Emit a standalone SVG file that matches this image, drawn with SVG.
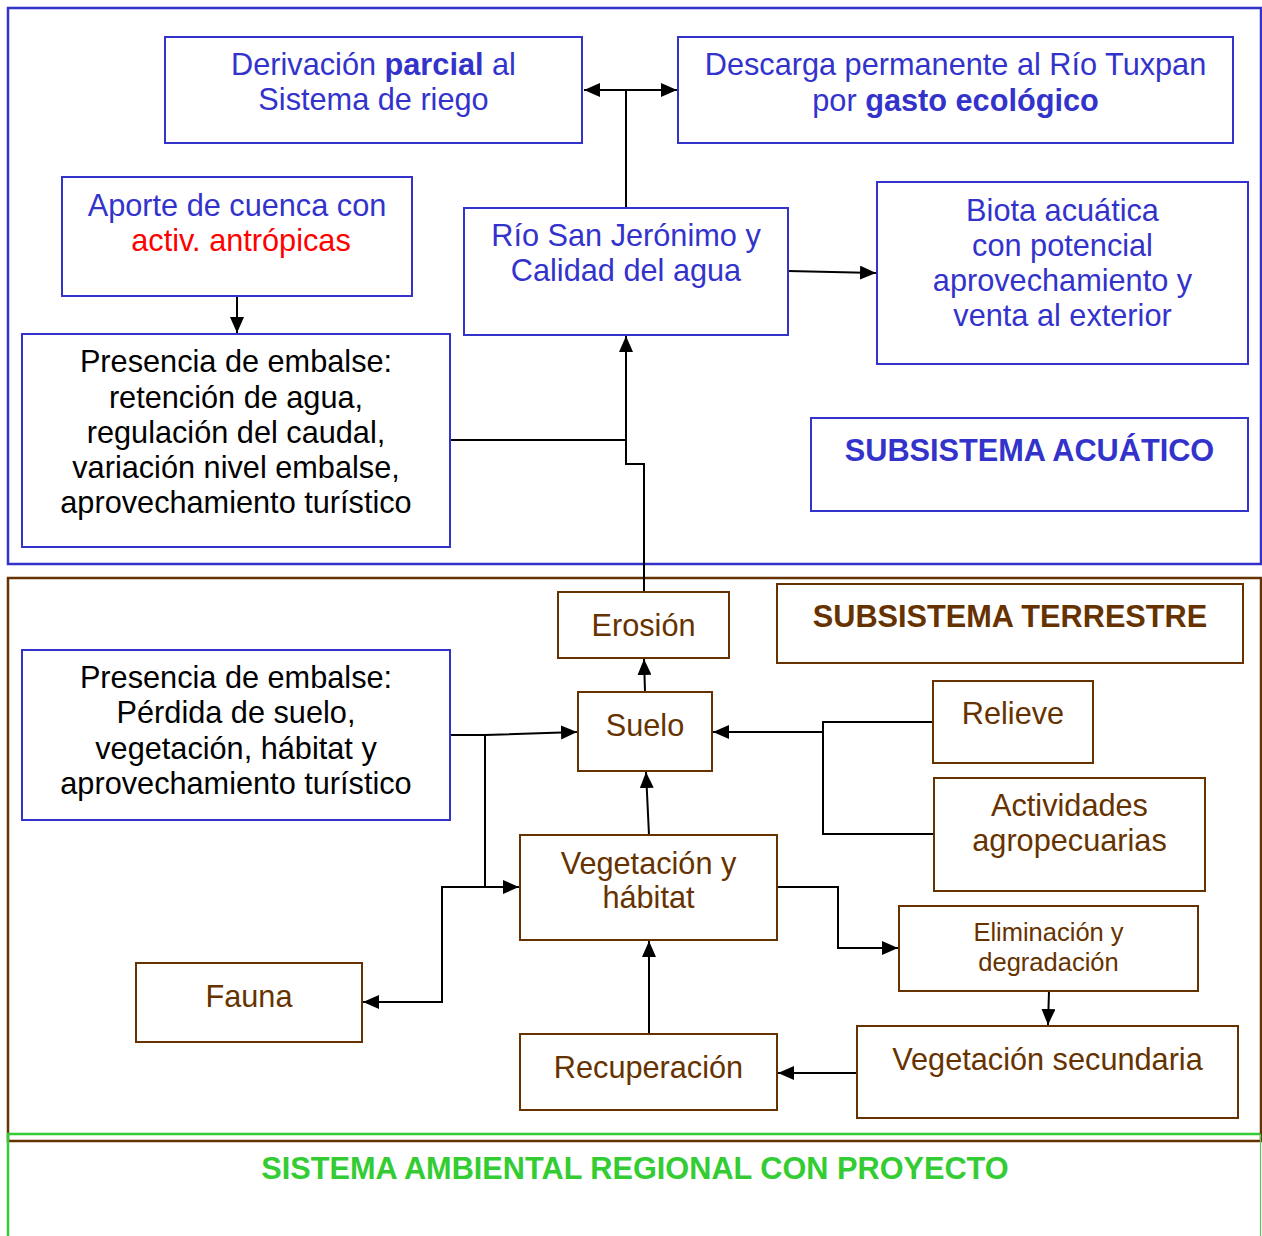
<svg xmlns="http://www.w3.org/2000/svg" width="1262" height="1236" viewBox="0 0 1262 1236">
<style>
text{font-family:"Liberation Sans",Arial,sans-serif;font-size:30.7px;text-anchor:middle}
.b{fill:#3333CC}.k{fill:#000}.br{fill:#663300}.r{fill:#FF0000}.g{fill:#33CC33}
.bold{font-weight:bold}
.nb{fill:#fff;stroke:#3333CC;stroke-width:2}
.nr{fill:#fff;stroke:#663300;stroke-width:2}
.c{fill:none;stroke:#000;stroke-width:2}
</style>
<defs>
<marker id="a" markerUnits="userSpaceOnUse" markerWidth="16" markerHeight="14" refX="16" refY="7" orient="auto"><path d="M0,0 L16,7 L0,14 z" fill="#000"/></marker>
</defs>
<g id="frames">
<rect x="8" y="8" width="1253" height="556" fill="none" stroke="#3333CC" stroke-width="2.5"/>
<rect x="8" y="578" width="1253" height="563" fill="none" stroke="#663300" stroke-width="2.5"/>
<path d="M8,1240 V1134 H1260" fill="none" stroke="#33CC33" stroke-width="2.5"/>
<path d="M1260.5,1134 V1240" fill="none" stroke="#55CC55" stroke-width="1.2"/>
</g>
<g id="connectors">
<path class="c" d="M626,208 V90"/>
<path class="c" d="M626,90 H584" marker-end="url(#a)"/>
<path class="c" d="M626,90 H677" marker-end="url(#a)"/>
<path class="c" d="M788,271 L876,273" marker-end="url(#a)"/>
<path class="c" d="M237,296 V333" marker-end="url(#a)"/>
<path class="c" d="M450,440 H626"/>
<path class="c" d="M644,592 V464 H626 V336" marker-end="url(#a)"/>
<path class="c" d="M645,692 L644,659" marker-end="url(#a)"/>
<path class="c" d="M450,735 H485 L577,732" marker-end="url(#a)"/>
<path class="c" d="M485,735 V887 H519" marker-end="url(#a)"/>
<path class="c" d="M485,887 H442 V1002 H363" marker-end="url(#a)"/>
<path class="c" d="M649,835 L646,772" marker-end="url(#a)"/>
<path class="c" d="M933,722 H823 V834 H934"/>
<path class="c" d="M823,732 H713" marker-end="url(#a)"/>
<path class="c" d="M777,887 H838 V948 H898" marker-end="url(#a)"/>
<path class="c" d="M1049,991 L1048,1025" marker-end="url(#a)"/>
<path class="c" d="M857,1073 H778" marker-end="url(#a)"/>
<path class="c" d="M649,1034 V941" marker-end="url(#a)"/>
</g>
<g id="n-derivacion">
<rect class="nb" x="165" y="37" width="417" height="106"/>
<text class="b" x="373.5" y="75">Derivación <tspan class="bold">parcial</tspan> al</text>
<text class="b" x="373.5" y="110">Sistema de riego</text>
</g>
<g id="n-descarga">
<rect class="nb" x="678" y="37" width="555" height="106"/>
<text class="b" x="955.5" y="75">Descarga permanente al Río Tuxpan</text>
<text class="b" x="955.5" y="111">por <tspan class="bold">gasto ecológico</tspan></text>
</g>
<g id="n-aporte">
<rect class="nb" x="62" y="177" width="350" height="119"/>
<text class="b" x="237" y="216">Aporte de cuenca con</text>
<text class="r" x="241" y="251">activ. antrópicas</text>
</g>
<g id="n-rio">
<rect class="nb" x="464" y="208" width="324" height="127"/>
<text class="b" x="626" y="246">Río San Jerónimo y</text>
<text class="b" x="626" y="281">Calidad del agua</text>
</g>
<g id="n-biota">
<rect class="nb" x="877" y="182" width="371" height="182"/>
<text class="b" x="1062.5" y="221">Biota acuática</text>
<text class="b" x="1062.5" y="256">con potencial</text>
<text class="b" x="1062.5" y="291">aprovechamiento y</text>
<text class="b" x="1062.5" y="326">venta al exterior</text>
</g>
<g id="n-embalse-acuatico">
<rect class="nb" x="22" y="334" width="428" height="213"/>
<text class="k" x="236" y="372">Presencia de embalse:</text>
<text class="k" x="236" y="408">retención de agua,</text>
<text class="k" x="236" y="443">regulación del caudal,</text>
<text class="k" x="236" y="478">variación nivel embalse,</text>
<text class="k" x="236" y="513">aprovechamiento turístico</text>
</g>
<g id="n-subsistema-acuatico">
<rect class="nb" x="811" y="418" width="437" height="93"/>
<text class="b bold" x="1029.5" y="461">SUBSISTEMA ACUÁTICO</text>
</g>
<g id="n-erosion">
<rect class="nr" x="558" y="592" width="171" height="66"/>
<text class="br" x="643.5" y="636">Erosión</text>
</g>
<g id="n-subsistema-terrestre">
<rect class="nr" x="777" y="584" width="466" height="79"/>
<text class="br bold" x="1010" y="627">SUBSISTEMA TERRESTRE</text>
</g>
<g id="n-embalse-terrestre">
<rect class="nb" x="22" y="650" width="428" height="170"/>
<text class="k" x="236" y="688">Presencia de embalse:</text>
<text class="k" x="236" y="723">Pérdida de suelo,</text>
<text class="k" x="236" y="759">vegetación, hábitat y</text>
<text class="k" x="236" y="794">aprovechamiento turístico</text>
</g>
<g id="n-suelo">
<rect class="nr" x="578" y="692" width="134" height="79"/>
<text class="br" x="645" y="736">Suelo</text>
</g>
<g id="n-relieve">
<rect class="nr" x="933" y="681" width="160" height="82"/>
<text class="br" x="1013" y="724">Relieve</text>
</g>
<g id="n-actividades">
<rect class="nr" x="934" y="778" width="271" height="113"/>
<text class="br" x="1069.5" y="816">Actividades</text>
<text class="br" x="1069.5" y="851">agropecuarias</text>
</g>
<g id="n-vegetacion">
<rect class="nr" x="520" y="835" width="257" height="105"/>
<text class="br" x="648.5" y="874">Vegetación y</text>
<text class="br" x="648.5" y="908">hábitat</text>
</g>
<g id="n-eliminacion">
<rect class="nr" x="899" y="906" width="299" height="85"/>
<text class="br" style="font-size:25.5px" x="1048.5" y="941">Eliminación y</text>
<text class="br" style="font-size:25.5px" x="1048.5" y="971">degradación</text>
</g>
<g id="n-fauna">
<rect class="nr" x="136" y="963" width="226" height="79"/>
<text class="br" x="249" y="1007">Fauna</text>
</g>
<g id="n-recuperacion">
<rect class="nr" x="520" y="1034" width="257" height="76"/>
<text class="br" x="648.5" y="1078">Recuperación</text>
</g>
<g id="n-vegetacion-secundaria">
<rect class="nr" x="857" y="1026" width="381" height="92"/>
<text class="br" x="1047.5" y="1070">Vegetación secundaria</text>
</g>
<g id="n-sistema">
<text class="g bold" x="635" y="1179">SISTEMA AMBIENTAL REGIONAL CON PROYECTO</text>
</g>
</svg>
